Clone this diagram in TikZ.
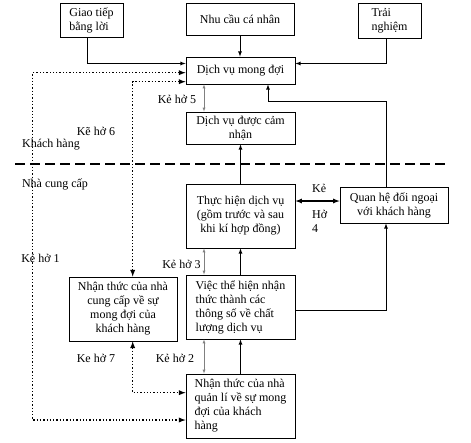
\documentclass[tikz,border=0pt]{standalone}
\usepackage{fontspec}
\setmainfont{Liberation Serif}
\tikzset{
    box/.style={draw, line width=0.8pt, inner sep=2pt,
        font=\fontsize{12}{14}\selectfont},
    gap/.style={dotted, line width=1.3pt},
    hole/.style={draw=gray, line width=0.4pt},
    lbl/.style={font=\fontsize{12}{14}\selectfont, inner sep=0pt}
}
\begin{document}
\begin{tikzpicture}[x=1pt, y=-1pt, >=latex]
    \useasboundingbox (0,0) rectangle (471,442);

    \node[box, minimum width=63pt, minimum height=34pt, align=left]
        (giao) at (91.5,20) {Giao tiếp\\bằng lời};
    \node[box, minimum width=108pt, minimum height=32pt]
        (nhucau) at (240,19) {Nhu cầu cá nhân};
    \node[box, minimum width=63pt, minimum height=35pt, align=left]
        (trai) at (389.5,20.5) {Trải\\nghiệm};
    \node[box, minimum width=109pt, minimum height=27pt]
        (mongdoi) at (240.5,70.5) {Dịch vụ mong đợi};
    \node[box, minimum width=109pt, minimum height=32pt, align=center]
        (camnhan) at (240.5,128) {Dịch vụ được cảm\\nhận};
    \node[box, minimum width=109pt, minimum height=64pt, align=center]
        (thuchien) at (240.5,216) {Thực hiện dịch vụ\\(gồm trước và sau\\khi kí hợp đồng)};
    \node[box, minimum width=108pt, minimum height=36pt, align=center]
        (quanhe) at (394,205) {Quan hệ đối ngoại\\với khách hàng};
    \node[box, minimum width=109pt, minimum height=64pt, align=left]
        (thehien) at (240.5,307) {Việc thể hiện nhận\\thức thành các\\thông số về chất\\lượng dịch vụ};
    \node[box, minimum width=108pt, minimum height=64pt, align=center]
        (nhacc) at (123,309) {Nhận thức của nhà\\cung cấp về sự\\mong đợi của\\khách hàng};
    \node[box, minimum width=109pt, minimum height=64pt, align=left]
        (quanli) at (240.5,406) {Nhận thức của nhà\\quản lí về sự mong\\đợi của khách\\hàng};

    % labels
    \node[lbl] (k5) at (177,99.5) {Kẻ hở 5};
    \node[lbl] (k6) at (96,131) {Kẽ hở 6};
    \node[lbl] (kh) at (51,145) {Khách hàng};
    \node[lbl] (ncc) at (55,184) {Nhà cung cấp};
    \node[lbl, anchor=west] (k4a) at (312,188) {Kẻ};
    \node[lbl, anchor=west, align=left] (k4b) at (312,221.5) {Hở\\4};
    \node[lbl] (k1) at (40.5,258) {Kẻ hở 1};
    \node[lbl] (k3) at (181.5,264) {Kẻ hở 3};
    \node[lbl] (k7) at (96,358) {Ke hở 7};
    \node[lbl] (k2) at (175,358) {Kẻ hở 2};

    % customer / provider border
    \draw[dash pattern=on 10pt off 5pt, line width=1.8pt] (15,164.3) -- (445,164.3);

    % solid connectors
    \draw[->, line width=0.8pt] ([xshift=-4.5pt]giao.south) |- ([yshift=7pt]mongdoi.west);
    \draw[->, line width=0.8pt] (nhucau.south) -- (nhucau.south |- mongdoi.north);
    \draw[->, line width=0.8pt] ([xshift=-3.5pt]trai.south) |- ([yshift=7pt]mongdoi.east);
    \draw[->, line width=0.8pt] ([xshift=-8pt]quanhe.north) -- ++(0,-85.3)
        -| ([xshift=27.5pt]mongdoi.south);
    \draw[->, line width=0.8pt] (thuchien.north) -- (camnhan.south);
    \draw[<->, line width=1.2pt] ([yshift=15pt]thuchien.east)
        -- ([yshift=15pt]thuchien.east -| quanhe.west);
    \draw[->, line width=0.8pt] (thehien.north) -- (thuchien.south);
    \draw[->, line width=0.8pt] ([yshift=-3pt]thehien.east) -| ([xshift=-8pt]quanhe.south);
    \draw[->, line width=0.8pt] (quanli.north) -- (thehien.south);

    % gaps
    \draw[hole, <->] ([xshift=-36.5pt]mongdoi.south) -- ([xshift=-36.5pt]camnhan.north);
    \draw[hole, <->] ([xshift=-36.5pt]thuchien.south) -- ([xshift=-36.5pt]thehien.north);
    \draw[hole, <->] ([xshift=-36.5pt]thehien.south) -- ([xshift=-36.5pt]quanli.north);
    \draw[gap, <->] ([yshift=-2.2pt]mongdoi.west) -- ++(-153,0)
        |- ([yshift=-14pt]quanli.west);
    \draw[gap, <->] ([xshift=9.7pt]nhacc.north) |- ([yshift=-11.2pt]mongdoi.west);
    \draw[gap, <->] ([xshift=9.7pt]nhacc.south) |- ([yshift=13.3pt]quanli.west);
\end{tikzpicture}
\end{document}
